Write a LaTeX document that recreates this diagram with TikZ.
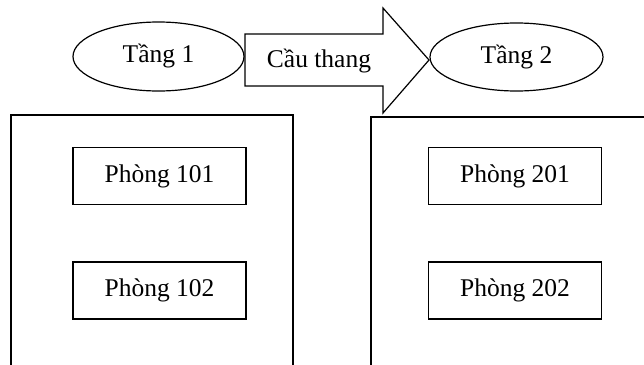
\documentclass[tikz,border=0pt]{standalone}
\usepackage{fontspec}
\setmainfont{Liberation Serif}
\usetikzlibrary{shapes.geometric}
\begin{document}
\begin{tikzpicture}[x=1pt,y=-1pt,
  line/.style={draw=black,line width=1.2pt},
  floorell/.style={line,ellipse,inner sep=0pt,font=\fontsize{25.5}{30}\selectfont},
  roombox/.style={line,rectangle,inner sep=0pt,minimum width=173pt,minimum height=57pt,font=\fontsize{25.5}{30}\selectfont},
  lbl/.style={inner sep=0pt,font=\fontsize{25.5}{30}\selectfont}]
\useasboundingbox (0,0) rectangle (644,364);
\clip (0,0) rectangle (644,364);
% big floor frames
\draw[line] (11,370) -- (11,115) -- (293,115) -- (293,370);
\draw[line] (371,370) -- (371,117) -- (650,117);
% floor ellipses
\node[floorell,minimum width=171pt,minimum height=69pt] (t1) at (158.5,56.5) {Tầng 1};
\node[floorell,minimum width=173pt,minimum height=68pt] (t2) at (516.5,57) {Tầng 2};
% stair arrow
\coordinate (a0) at (245,34);
\draw[line,fill=white] (a0) -- (383,34) -- (383,8) -- (429,60) -- (383,113) -- (383,86) -- (245,86) -- cycle;
\node[lbl] (stair) at (319,61) {Cầu thang};
% rooms
\node[roombox] (r101) at (159.5,176) {Phòng 101};
\node[roombox] (r102) at (159.5,290.5) {Phòng 102};
\node[roombox] (r201) at (515,176) {Phòng 201};
\node[roombox] (r202) at (515,290.5) {Phòng 202};
\end{tikzpicture}
\end{document}
